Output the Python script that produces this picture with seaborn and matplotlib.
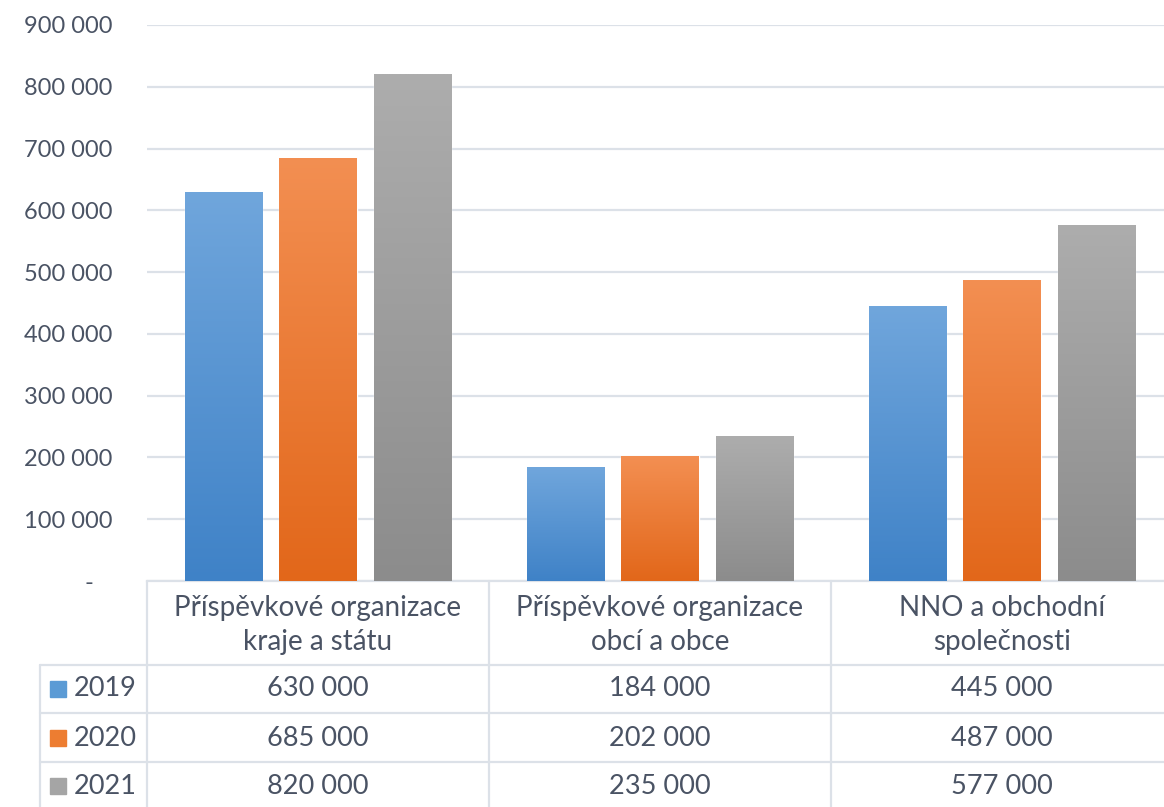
import numpy as np
import pandas as pd
import seaborn as sns
import matplotlib.pyplot as plt
from matplotlib.colors import LinearSegmentedColormap

# data
categories = ["Příspěvkové organizace\nkraje a státu",
              "Příspěvkové organizace\nobcí a obce",
              "NNO a obchodní\nspolečnosti"]
years = ["2019", "2020", "2021"]
v2019 = [630000, 184000, 445000]
v2020 = [685000, 202000, 487000]
v2021 = [820000, 235000, 577000]
yticks = [0, 100000, 200000, 300000, 400000, 500000, 600000, 700000, 800000, 900000]

# colours: (bottom, top) of the Excel-style gradient
grad = {"2019": ("#3F82C7", "#70A6DC"),
        "2020": ("#E2671A", "#F38F52"),
        "2021": ("#8C8C8C", "#ADADAD")}
mid = {"2019": "#5B9BD5", "2020": "#ED7D31", "2021": "#A5A5A5"}
txt = "#4A5364"
line_c = "#DCE1E8"

df = pd.DataFrame({
    "cat": categories * 3,
    "year": [y for y in years for _ in categories],
    "value": v2019 + v2020 + v2021,
})

W, H = 1164, 807
sns.set_style("white")
plt.rcParams["font.family"] = ["Lato", "DejaVu Sans"]

fig = plt.figure(figsize=(W / 100, H / 100), dpi=100)
ax = fig.add_axes([147 / W, (H - 581) / H, 1026 / W, 556 / H])

sns.barplot(data=df, x="cat", y="value", hue="year", palette=mid,
            width=0.83, gap=0.185, saturation=1, legend=False, ax=ax, zorder=2)

# gradient fill clipped to each bar
g = np.linspace(0, 1, 256).reshape(-1, 1)
for cont, y in zip(ax.containers, years):
    cmap = LinearSegmentedColormap.from_list(y, grad[y])
    for bar in cont:
        x0, w, h = bar.get_x(), bar.get_width(), bar.get_height()
        im = ax.imshow(g, extent=[x0, x0 + w, 0, h], origin="lower",
                       aspect="auto", cmap=cmap, zorder=3)
        im.set_clip_path(bar)

ax.set_xlim(-0.5, 2.5)
ax.set_ylim(0, 900000)
ax.set_yticks(yticks)
ax.set_yticklabels([f"{v:,}".replace(",", " ") if v else "-   " for v in yticks],
                   fontsize=17, color=txt)
ax.tick_params(axis="y", length=0, pad=25)
ax.set_xticks([])
ax.set_xlabel("")
ax.set_ylabel("")
ax.grid(axis="y", color=line_c, lw=1.6, zorder=0)
for s in ["top", "right", "left"]:
    ax.spines[s].set_visible(False)
ax.spines["bottom"].set_color(line_c)
ax.spines["bottom"].set_linewidth(1.6)


# data table below the plot (pixel positions converted to figure coords)
def fx(x):
    return x / W


def fy(y):
    return 1 - y / H


def hline(y, x0, x1):
    fig.add_artist(plt.Line2D([fx(x0), fx(x1)], [fy(y), fy(y)], color=line_c, lw=1.6))


def vline(x, y0, y1):
    fig.add_artist(plt.Line2D([fx(x), fx(x)], [fy(y0), fy(y1)], color=line_c, lw=1.6))


cols = [147, 489, 831, 1173]
for x in cols[:3]:
    vline(x, 581, H)
vline(40, 665, H)
row_y = [665, 713, 762]
for y in row_y:
    hline(y, 40, W)

centers = [(cols[i] + cols[i + 1]) / 2 for i in range(3)]
for c, name in zip(centers, categories):
    fig.text(fx(c), fy(625), name, ha="center", va="center", fontsize=20,
             color=txt, linespacing=1.4)

row_mid = [689, 738, 786]
for ym, y, vals in zip(row_mid, years, [v2019, v2020, v2021]):
    fig.patches.append(plt.Rectangle((fx(50), fy(ym + 8)), 16 / W, 16 / H,
                                     transform=fig.transFigure, color=mid[y]))
    fig.text(fx(74), fy(ym), y, ha="left", va="center", fontsize=19.5, color=txt)
    for c, v in zip(centers, vals):
        fig.text(fx(c), fy(ym), f"{v:,}".replace(",", " "), ha="center",
                 va="center", fontsize=19.5, color=txt)

plt.savefig("out.png", dpi=100)
